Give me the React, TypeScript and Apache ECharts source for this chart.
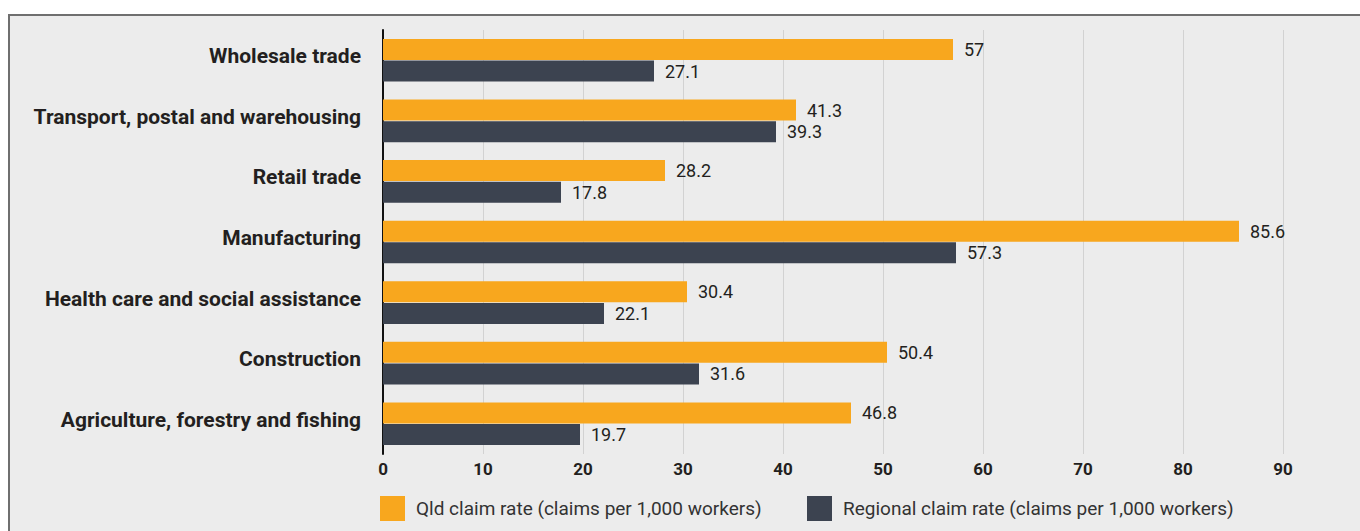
import React, { useEffect, useRef } from "react";
import * as echarts from "echarts";

const categories = [
  "Wholesale trade",
  "Transport, postal and warehousing",
  "Retail trade",
  "Manufacturing",
  "Health care and social assistance",
  "Construction",
  "Agriculture, forestry and fishing",
];
const qldName = "Qld claim rate (claims per 1,000 workers)";
const regionalName = "Regional claim rate (claims per 1,000 workers)";
const qldValues = [57, 41.3, 28.2, 85.6, 30.4, 50.4, 46.8];
const regionalValues = [27.1, 39.3, 17.8, 57.3, 22.1, 31.6, 19.7];

const ORANGE = "#f8a71e";
const DARK = "#3c4350";
const TEXT = "#231f20";
const FONT = "Roboto, 'Noto Sans', sans-serif";

export default function App() {
  const ref = useRef<HTMLDivElement>(null);
  useEffect(() => {
    if (!ref.current) return;
    const chart = echarts.init(ref.current, undefined, { renderer: "svg" });
    const labelStyle = {
      show: true,
      position: "right",
      distance: 11,
      fontSize: 18,
      color: TEXT,
      fontFamily: FONT,
    };
    const legendBase = {
      top: 480,
      padding: 0,
      itemWidth: 25,
      itemHeight: 25,
      icon: "rect",
      textStyle: { fontSize: 19, color: "#333", fontFamily: FONT, padding: [0, 0, 0, 6] },
    };
    chart.setOption({
      animation: false,
      backgroundColor: "transparent",
      grid: { left: 373, top: 14, width: 1000, height: 424, containLabel: false },
      legend: [
        { ...legendBase, data: [qldName], left: 370 },
        { ...legendBase, data: [regionalName], left: 797 },
      ],
      xAxis: {
        type: "value",
        min: 0,
        max: 100,
        interval: 10,
        axisLine: { show: false },
        axisTick: { show: false },
        splitLine: { lineStyle: { color: "#d2d2d2", width: 1 } },
        axisLabel: {
          fontSize: 17,
          fontWeight: "bold",
          color: TEXT,
          fontFamily: FONT,
          margin: 6,
          showMaxLabel: false,
        },
      },
      yAxis: {
        type: "category",
        inverse: true,
        data: categories,
        axisLine: { show: true, lineStyle: { color: "#111", width: 2 } },
        axisTick: { show: false },
        axisLabel: {
          fontSize: 21,
          fontWeight: "bold",
          color: TEXT,
          fontFamily: FONT,
          margin: 22,
          lineHeight: 8,
          verticalAlign: "bottom",
        },
      },
      series: [
        {
          name: qldName,
          type: "bar",
          data: qldValues,
          barWidth: 21,
          barGap: "3%",
          itemStyle: { color: ORANGE },
          label: labelStyle,
        },
        {
          name: regionalName,
          type: "bar",
          data: regionalValues,
          barWidth: 21,
          barGap: "3%",
          itemStyle: { color: DARK },
          label: labelStyle,
        },
      ],
    });
    return () => chart.dispose();
  }, []);

  return (
    <div
      style={{
        position: "fixed",
        left: 0,
        top: 0,
        right: 0,
        bottom: 0,
        overflow: "hidden",
        background: "#ffffff",
      }}
    >
      <div
        style={{
          position: "absolute",
          left: 8,
          top: 14,
          width: 1500,
          height: 540,
          background: "#ececec",
          borderTop: "2px solid #6f6f6f",
          borderLeft: "2px solid #6f6f6f",
        }}
      >
        <div ref={ref} style={{ position: "absolute", left: 0, top: 0, width: 1498, height: 518 }} />
      </div>
    </div>
  );
}
